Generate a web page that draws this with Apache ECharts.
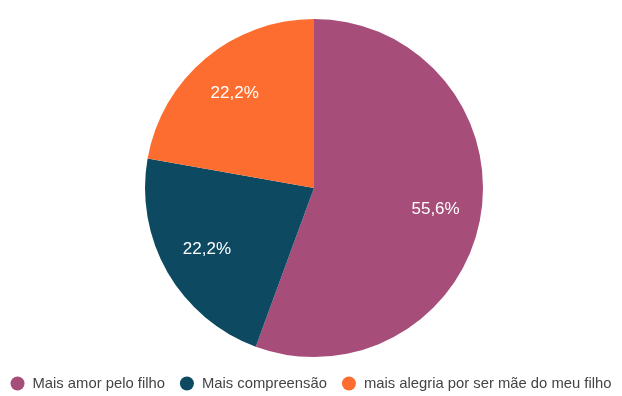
<!DOCTYPE html>
<html>
<head>
<meta charset="utf-8">
<script src="https://cdn.jsdelivr.net/npm/echarts@6/dist/echarts.min.js"></script>
<style>
  html, body { margin: 0; padding: 0; background: #fff; }
  #chart { width: 622px; height: 396px; }
</style>
</head>
<body>
<div id="chart"></div>
<script>
// Answer categories and their share (%)
const categories = ['Mais amor pelo filho', 'Mais compreensão', 'mais alegria por ser mãe do meu filho'];
const shares = [55.6, 22.2, 22.2];
const colors = ['#a64d79', '#0d4a62', '#fd6d30'];

const font = '"Liberation Sans", Arial, sans-serif';
const data = categories.map((name, i) => ({ name, value: shares[i], itemStyle: { color: colors[i] } }));
const fmt = p => p.value.toFixed(1).replace('.', ',') + '%';

const chart = echarts.init(document.getElementById('chart'), null, { renderer: 'canvas' });
chart.setOption({
  backgroundColor: '#fff',
  animation: false,
  legend: {
    bottom: 0,
    left: 'center',
    icon: 'circle',
    itemWidth: 14,
    itemHeight: 14,
    itemGap: 15,
    data: categories.map((name, i) => ({ name, itemStyle: { color: colors[i] } })),
    textStyle: { fontFamily: font, fontSize: 14.8, color: '#444', padding: [0, 0, 0, 3] }
  },
  series: [
    {
      type: 'pie',
      center: [314, 188],
      radius: [0, 169],
      startAngle: 90,
      clockwise: true,
      label: { show: false },
      labelLine: { show: false },
      emphasis: { disabled: true },
      data
    },
    {
      // transparent ring that only carries the percentage labels
      type: 'pie',
      center: [314, 188],
      radius: [72, 169],
      startAngle: 90,
      clockwise: true,
      silent: true,
      legendHoverLink: false,
      itemStyle: { color: 'rgba(0,0,0,0)' },
      label: {
        show: true,
        position: 'inside',
        formatter: fmt,
        color: '#fff',
        fontFamily: font,
        fontSize: 17
      },
      labelLine: { show: false },
      emphasis: { disabled: true },
      data: categories.map((name, i) => ({ name, value: shares[i], itemStyle: { color: 'rgba(0,0,0,0)' } }))
    }
  ]
});
</script>
</body>
</html>
